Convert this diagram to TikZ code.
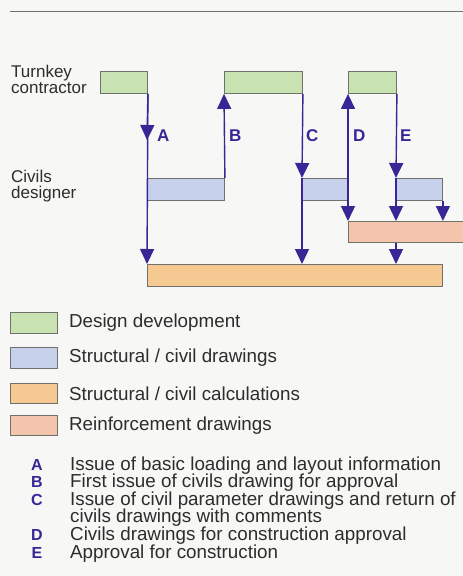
\documentclass[tikz,border=0pt]{standalone}
\usepackage{fontspec}
\setmainfont{Liberation Sans}
\usetikzlibrary{arrows.meta}
\usetikzlibrary{positioning}

\definecolor{ddgreen}{RGB}{200,226,178}
\definecolor{sdblue}{RGB}{200,209,236}
\definecolor{scorange}{RGB}{246,201,146}
\definecolor{rfpink}{RGB}{243,197,172}
\definecolor{boxedge}{RGB}{112,112,108}
\definecolor{flowpurple}{RGB}{56,38,150}
\definecolor{txtgray}{RGB}{45,45,45}
\definecolor{pagebg}{RGB}{247,247,245}

\tikzset{actbox/.style={rectangle, draw=boxedge, line width=0.9pt, inner sep=0pt, anchor=north west, minimum height=22pt}}
\tikzset{ddbox/.style={actbox, fill=ddgreen}}
\tikzset{sdbox/.style={actbox, fill=sdblue}}
\tikzset{scbox/.style={actbox, fill=scorange}}
\tikzset{rfbox/.style={actbox, fill=rfpink}}
\tikzset{flow/.style={draw=flowpurple, line width=1.4pt, >={Triangle[length=15pt,width=14pt]}, ->}}
\tikzset{flowlbl/.style={text=flowpurple, font=\fontsize{17}{17}\selectfont\bfseries, inner sep=0pt, anchor=west}}
\tikzset{lane/.style={text=txtgray, font=\fontsize{17}{16}\selectfont, inner sep=0pt, align=left, anchor=west}}
\tikzset{keytxt/.style={text=txtgray, font=\fontsize{18.8}{17.6}\selectfont, inner sep=0pt}}
\tikzset{keyltr/.style={text=flowpurple, font=\fontsize{16}{16}\selectfont\bfseries, inner sep=0pt, anchor=base}}

\begin{document}
\begin{tikzpicture}[x=1pt, y=-1pt]

\useasboundingbox (0,0) rectangle (463,576);
\fill[pagebg] (0,0) rectangle (463,576);
\draw[boxedge, line width=1pt] (10,11.5) -- (463,11.5);

% who does what
\node[lane] (tk) at (11,79) {Turnkey\\contractor};
\node[lane] (cv) at (11,186) {Civils\\designer};

% activity bars
\node[ddbox, minimum width=47pt] (dd1) at (100,71) {};
\node[ddbox, minimum width=78pt] (dd2) at (224,71) {};
\node[ddbox, minimum width=48pt] (dd3) at (348,71) {};
\node[sdbox, minimum width=77pt] (sd1) at (147,178) {};
\node[sdbox, minimum width=46pt] (sd2) at (302,178) {};
\node[sdbox, minimum width=46pt] (sd3) at (396,178) {};
\node[rfbox, minimum width=130pt, minimum height=21pt] (rf) at (348,221) {};
\node[scbox, minimum width=295pt] (sc) at (147,264) {};

% A
\coordinate (amid) at (147,140);
\draw[flow] (dd1.south east) -- (sc.north west);
\draw[flow] (dd1.south east) -- (amid);
% B
\draw[flow] (sd1.north east) -- (dd2.south west);
% C
\draw[flow] (dd2.south east) -- (sd2.north west);
\draw[flow] (sd2.north west) -- (sd2.north west |- sc.north);
% D
\draw[flow, <->] (rf.north west) -- (dd3.south west);
% E
\draw[flow] (dd3.south east) -- (sd3.north west);
\draw[flow] (sd3.north west) -- (sd3.north west |- rf.north);
\draw[flow] (sd3.north west |- rf.south) -- (sd3.north west |- sc.north);
\draw[flow] (sd3.south east) -- (sd3.south east |- rf.north);

\node[flowlbl] (la) at (157,136) {A};
\node[flowlbl] (lb) at (229,136) {B};
\node[flowlbl] (lc) at (306,136) {C};
\node[flowlbl] (ld) at (353,136) {D};
\node[flowlbl] (le) at (400,136) {E};

% key to bars
\node[ddbox, minimum width=47pt, minimum height=21pt] (kdd) at (10,312) {};
\node[sdbox, minimum width=47pt, minimum height=21pt] (ksd) at (10,347) {};
\node[scbox, minimum width=47pt, minimum height=20pt] (ksc) at (10,383) {};
\node[rfbox, minimum width=47pt, minimum height=20pt] (krf) at (10,415) {};
\node[keytxt, right=11pt of kdd] (tdd) {Design development};
\node[keytxt, right=11pt of ksd] (tsd) {Structural / civil drawings};
\node[keytxt, right=11pt of ksc] (tsc) {Structural / civil calculations};
\node[keytxt, right=11pt of krf] (trf) {Reinforcement drawings};

% key to letters
\node[keyltr] (ka) at (37,470) {A};
\node[keyltr] (kb) at (37,487.6) {B};
\node[keyltr] (kc) at (37,505.2) {C};
\node[keyltr] (kd) at (37,540.4) {D};
\node[keyltr] (ke) at (37,558) {E};
\node[keytxt, anchor=base west] (ta) at (70,470) {Issue of basic loading and layout information};
\node[keytxt, anchor=base west] (tb) at (70,487.6) {First issue of civils drawing for approval};
\node[keytxt, anchor=base west] (tc) at (70,505.2) {Issue of civil parameter drawings and return of};
\node[keytxt, anchor=base west] (tc2) at (70,522.8) {civils drawings with comments};
\node[keytxt, anchor=base west] (td) at (70,540.4) {Civils drawings for construction approval};
\node[keytxt, anchor=base west] (te) at (70,558) {Approval for construction};

\end{tikzpicture}
\end{document}
